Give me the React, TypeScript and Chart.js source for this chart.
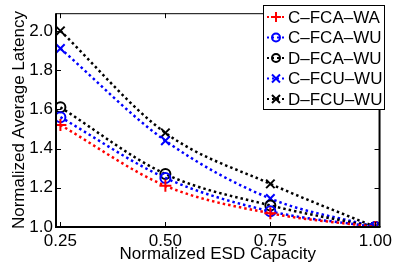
import React, { useEffect, useRef } from "react";
import { Chart, registerables } from "chart.js";

Chart.register(...registerables);

const xValues = [0.25, 0.5, 0.75, 1.0];
const xTickLabels = ["0.25", "0.50", "0.75", "1.00"];
const yTicks = [1.0, 1.2, 1.4, 1.6, 1.8, 2.0];

const seriesNames = ["C\u2013FCA\u2013WA", "C\u2013FCA\u2013WU", "D\u2013FCA\u2013WU", "C\u2013FCU\u2013WU", "D\u2013FCU\u2013WU"];
const cfcaWA = [1.52, 1.21, 1.07, 1.0];
const cfcaWU = [1.56, 1.25, 1.08, 1.0];
const dfcaWU = [1.61, 1.27, 1.11, 1.0];
const cfcuWU = [1.91, 1.44, 1.145, 1.0];
const dfcuWU = [2.0, 1.48, 1.22, 1.0];

const seriesValues = [cfcaWA, cfcaWU, dfcaWU, cfcuWU, dfcuWU];
const seriesColors = ["#ff0000", "#0000ff", "#000000", "#0000ff", "#000000"];
const seriesMarkers = ["cross", "circle", "circle", "crossRot", "crossRot"];

const FONT = "'Liberation Sans', Arial, Helvetica, sans-serif";

const framePlugin = {
  id: "frame",
  afterDatasetsDraw(chart: any) {
    const { ctx, chartArea: a, scales } = chart;
    const xs = scales.x;
    const ys = scales.y;
    ctx.save();
    ctx.strokeStyle = "#000";
    // inward ticks
    ctx.lineWidth = 1;
    const tl = 5;
    ctx.beginPath();
    xValues.forEach((v) => {
      const px = Math.round(xs.getPixelForValue(v)) + 0.5;
      ctx.moveTo(px, a.bottom);
      ctx.lineTo(px, a.bottom - tl);
      ctx.moveTo(px, a.top);
      ctx.lineTo(px, a.top + tl);
    });
    yTicks.forEach((v) => {
      const py = Math.round(ys.getPixelForValue(v)) + 0.5;
      ctx.moveTo(a.left, py);
      ctx.lineTo(a.left + tl, py);
      ctx.moveTo(a.right, py);
      ctx.lineTo(a.right - tl, py);
    });
    ctx.stroke();
    // frame
    ctx.lineWidth = 1;
    ctx.beginPath();
    ctx.moveTo(a.left, a.top + 0.5);
    ctx.lineTo(a.right, a.top + 0.5);
    ctx.stroke();
    ctx.lineWidth = 2;
    ctx.beginPath();
    ctx.moveTo(a.right, a.top);
    ctx.lineTo(a.right, a.bottom);
    ctx.stroke();
    ctx.lineWidth = 2;
    ctx.beginPath();
    ctx.moveTo(a.left, a.top);
    ctx.lineTo(a.left, a.bottom);
    ctx.lineTo(a.right + 1, a.bottom);
    ctx.stroke();

    // legend
    const lx = 263, ly = 5, lw = 121, lh = 104;
    ctx.fillStyle = "#fff";
    ctx.fillRect(lx, ly, lw, lh);
    ctx.lineWidth = 1;
    ctx.strokeRect(lx + 0.5, ly + 0.5, lw, lh);
    ctx.font = "17px " + FONT;
    ctx.textBaseline = "middle";
    ctx.textAlign = "left";
    seriesNames.forEach((name, i) => {
      const cy = ly + 12 + i * 20.5;
      const color = seriesColors[i];
      ctx.strokeStyle = color;
      ctx.lineWidth = 2;
      ctx.setLineDash([2, 3]);
      ctx.beginPath();
      ctx.moveTo(lx + 4, cy);
      ctx.lineTo(lx + 23, cy);
      ctx.stroke();
      ctx.setLineDash([]);
      const cx = lx + 13;
      ctx.beginPath();
      const m = seriesMarkers[i];
      if (m === "cross") {
        ctx.moveTo(cx - 5, cy); ctx.lineTo(cx + 5, cy);
        ctx.moveTo(cx, cy - 5); ctx.lineTo(cx, cy + 5);
      } else if (m === "circle") {
        ctx.arc(cx, cy, 4, 0, Math.PI * 2);
      } else {
        ctx.moveTo(cx - 4, cy - 4); ctx.lineTo(cx + 4, cy + 4);
        ctx.moveTo(cx + 4, cy - 4); ctx.lineTo(cx - 4, cy + 4);
      }
      ctx.stroke();
      ctx.fillStyle = "#000";
      ctx.fillText(name, lx + 25, cy + 1);
    });
    ctx.restore();
  },
};

export default function App() {
  const ref = useRef<HTMLCanvasElement>(null);
  useEffect(() => {
    if (!ref.current) return;
    const chart = new Chart(ref.current, {
      type: "line",
      data: {
        datasets: seriesValues.map((vals, i) => ({
          label: seriesNames[i],
          data: vals.map((v, j) => ({ x: xValues[j], y: v })),
          borderColor: seriesColors[i],
          backgroundColor: "transparent",
          borderWidth: 2.5,
          borderDash: [2.5, 3],
          cubicInterpolationMode: "monotone" as const,
          pointStyle: seriesMarkers[i] as any,
          pointRadius: seriesMarkers[i] === "circle" ? 5 : 6,
          pointBorderWidth: 2,
          pointBorderColor: seriesColors[i],
          pointBackgroundColor: "transparent",
          fill: false,
        })),
      },
      options: {
        animation: false,
        responsive: false,
        maintainAspectRatio: false,
        events: [],
        layout: { padding: { top: 3, right: 9, left: 0, bottom: 0 } },
        plugins: { legend: { display: false }, tooltip: { enabled: false } },
        scales: {
          x: {
            type: "linear",
            min: 0.2395,
            max: 1.01,
            afterBuildTicks: (s: any) => {
              s.ticks = xValues.map((v) => ({ value: v }));
            },
            afterFit: (s: any) => {
              s.height = 44;
            },
            grid: { display: false, drawTicks: false },
            border: { display: false },
            ticks: {
              color: "#000",
              font: { family: FONT, size: 17 },
              padding: 4,
              maxRotation: 0,
              autoSkip: false,
              callback: (v: any) => {
                const i = xValues.indexOf(Number(v));
                return i >= 0 ? xTickLabels[i] : "";
              },
            },
            title: {
              display: true,
              text: "Normalized ESD Capacity",
              color: "#000",
              font: { family: FONT, size: 17 },
              padding: { top: 0, bottom: 6 },
            },
          },
          y: {
            type: "linear",
            min: 1.0,
            max: 2.09,
            afterBuildTicks: (s: any) => {
              s.ticks = yTicks.map((v) => ({ value: v }));
            },
            afterFit: (s: any) => {
              s.width = 56;
            },
            grid: { display: false, drawTicks: false },
            border: { display: false },
            ticks: {
              color: "#000",
              font: { family: FONT, size: 17 },
              padding: 3,
              autoSkip: false,
              callback: (v: any) => Number(v).toFixed(1),
            },
            title: {
              display: true,
              text: "Normalized Average Latency",
              color: "#000",
              font: { family: FONT, size: 17 },
              padding: { top: 9, bottom: 0 },
            },
          },
        },
      },
      plugins: [framePlugin],
    });
    return () => chart.destroy();
  }, []);
  return (
    <div style={{ position: "fixed", left: 0, top: 0, width: 396, height: 271, background: "#fff" }}>
      <canvas ref={ref} width={396} height={271} style={{ display: "block" }} />
    </div>
  );
}
